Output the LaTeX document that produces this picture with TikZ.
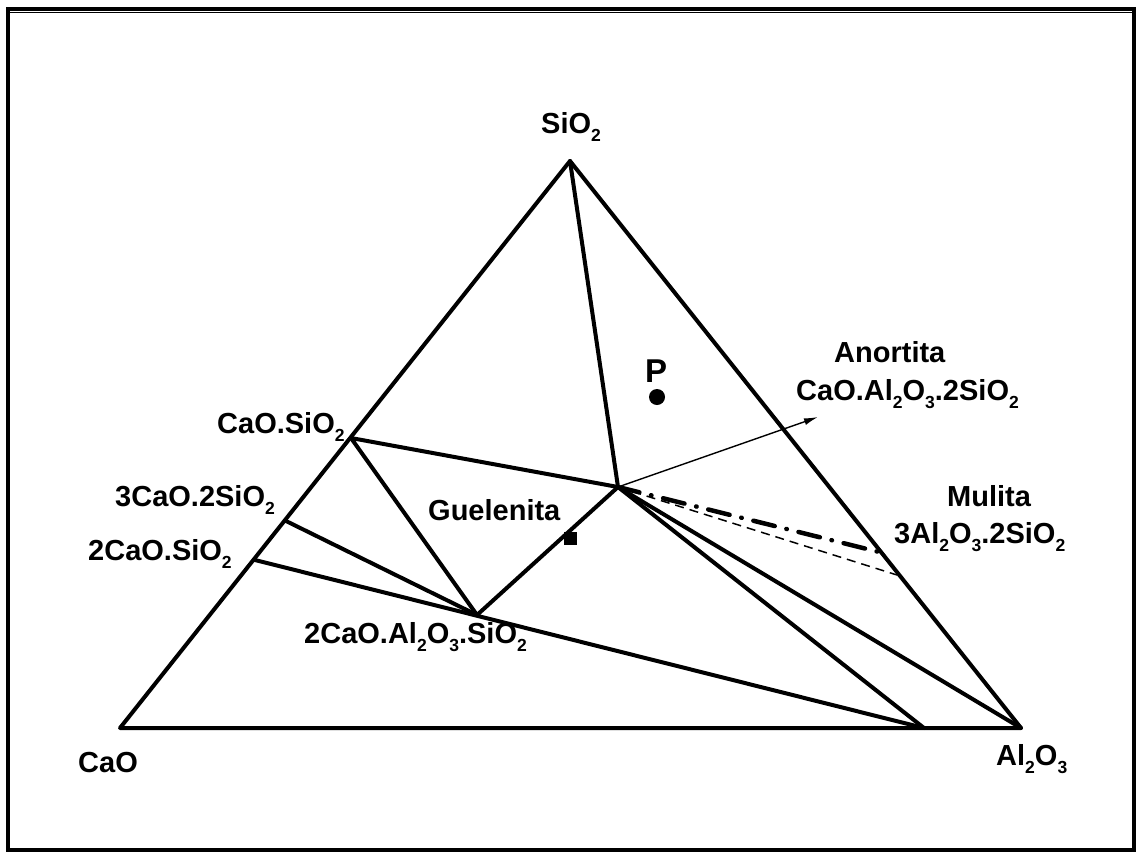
\documentclass[tikz,border=0pt]{standalone}
\usepackage{fontspec}
\setmainfont{Liberation Sans}
\usetikzlibrary{arrows.meta}
% chemical subscript, set smaller and lowered
\newcommand\subs[1]{\raisebox{-8pt}{\fontsize{17.5}{17.5}\selectfont #1}}
\begin{document}
\begin{tikzpicture}[x=1pt,y=-1pt,
  edge/.style={line width=4pt, line join=round, line cap=round},
  tie/.style={line width=4pt, line cap=round},
  lbl/.style={font=\fontsize{29}{31}\selectfont\bfseries, inner sep=0pt, anchor=base west},
  pointer/.style={line width=1.4pt, -{Latex[length=14pt,width=7pt]}},
  dashdot/.style={line width=4.5pt, line cap=round, dash pattern=on 22pt off 12pt on 0.5pt off 12pt},
  thindash/.style={line width=1.5pt, dash pattern=on 9pt off 6pt}]
\useasboundingbox (0,0) rectangle (1140,855);

% frame
\draw[line width=3.5pt] (8,9) rectangle (1134,850);
\draw[line width=1.2pt] (9,12.5) -- (1133,12.5);

% triangle vertices
\coordinate (CaO) at (120,728);
\coordinate (Al) at (1021,728);
\coordinate (Si) at (570,161);

% compounds
\coordinate (CS) at (351,438);
\coordinate (C3S2) at (286,521);
\coordinate (C2S) at (255,560);
\coordinate (Geh) at (477,615);
\coordinate (An) at (618,487);
\coordinate (Mul) at (879,552);
\coordinate (MulB) at (897,575);
\coordinate (Base) at (924,728);
\coordinate (Tip) at (818,417);

% ternary triangle
\draw[edge] (CaO) -- (Si) -- (Al) -- cycle;

% tie lines
\draw[tie] (Si) -- (An);
\draw[tie] (CS) -- (An);
\draw[tie] (CS) -- (Geh);
\draw[tie] (C3S2) -- (Geh);
\draw[tie] (C2S) -- (Base);
\draw[tie] (Geh) -- (An);
\draw[tie] (An) -- (Base);
\draw[tie] (An) -- (Al);
\draw[dashdot] (An) -- (Mul);
\draw[thindash] (An) -- (MulB);
\draw[pointer] (An) -- (Tip);

% composition markers
\fill (657,397) circle (8pt);
\fill (563.5,531.5) rectangle (576.5,544.5);

% labels
\node[lbl] (lSi) at (541,133) {SiO\subs{2}};
\node[lbl] (lCaO) at (78,772) {CaO};
\node[lbl] (lAl) at (996,765) {Al\subs{2}O\subs{3}};
\node[lbl] (lCS) at (217,433) {CaO.SiO\subs{2}};
\node[lbl] (lC3S2) at (115,506) {3CaO.2SiO\subs{2}};
\node[lbl] (lC2S) at (88,560) {2CaO.SiO\subs{2}};
\node[lbl] (lGeh) at (428,520) {Guelenita};
\node[lbl] (lGehF) at (304,643) {2CaO.Al\subs{2}O\subs{3}.SiO\subs{2}};
\node[lbl] (lAn) at (834,362) {Anortita};
\node[lbl] (lAnF) at (796,400) {CaO.Al\subs{2}O\subs{3}.2SiO\subs{2}};
\node[lbl] (lMul) at (947,506) {Mulita};
\node[lbl] (lMulF) at (894,543) {3Al\subs{2}O\subs{3}.2SiO\subs{2}};
\node[lbl, font=\fontsize{33}{35}\selectfont\bfseries] (lP) at (645,382) {P};
\end{tikzpicture}
\end{document}
